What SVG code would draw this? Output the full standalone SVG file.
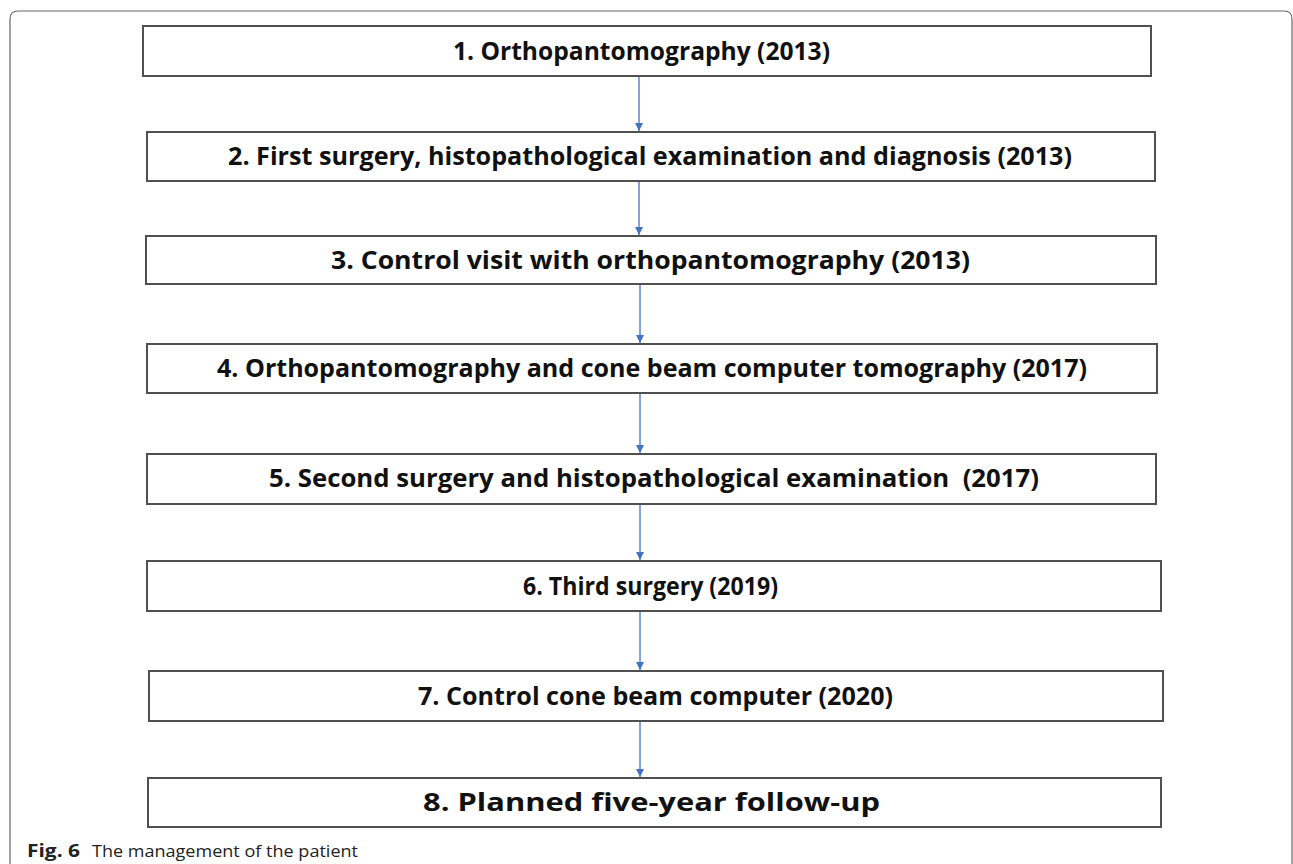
<svg xmlns="http://www.w3.org/2000/svg" width="1293" height="864" viewBox="0 0 1293 864">
<style>
.box{fill:#fff;stroke:#505050;stroke-width:2}
.lbl{font-family:"Open Sans","Noto Sans",sans-serif;font-weight:bold;font-size:24.5px;fill:#111}
.conn{stroke:#4472C4;stroke-width:1.3;fill:none;marker-end:url(#ah)}
.cap{font-family:"Open Sans","Noto Sans",sans-serif;font-size:17px;fill:#222}
</style>
<defs>
<marker id="ah" viewBox="0 0 10 10" refX="10" refY="5" markerUnits="userSpaceOnUse" markerWidth="8" markerHeight="8" orient="auto">
<path d="M0,0 L10,5 L0,10 z" fill="#4472C4"/>
</marker>
</defs>
<rect width="1293" height="864" fill="#fff"/>
<path d="M10,870 L10,19 Q10,11 18,11 L1284,11 Q1292,11 1292,19 L1292,870" fill="none" stroke="#666" stroke-width="1.2"/>
<g id="connectors">
<line class="conn" x1="639" y1="77" x2="639" y2="131"/>
<line class="conn" x1="639" y1="182" x2="639" y2="235"/>
<line class="conn" x1="640" y1="285" x2="640" y2="343"/>
<line class="conn" x1="640" y1="394" x2="640" y2="453"/>
<line class="conn" x1="640" y1="505" x2="640" y2="560"/>
<line class="conn" x1="640" y1="612" x2="640" y2="670"/>
<line class="conn" x1="640" y1="722" x2="640" y2="777"/>
</g>
<g id="n1"><rect class="box" x="143" y="26" width="1008" height="50"/><text class="lbl" x="453" y="60" textLength="377" lengthAdjust="spacingAndGlyphs">1. Orthopantomography (2013)</text></g>
<g id="n2"><rect class="box" x="147" y="132" width="1008" height="49"/><text class="lbl" x="228" y="165" textLength="844" lengthAdjust="spacingAndGlyphs">2. First surgery, histopathological examination and diagnosis (2013)</text></g>
<g id="n3"><rect class="box" x="146" y="236" width="1010" height="48"/><text class="lbl" x="331" y="269" textLength="639" lengthAdjust="spacingAndGlyphs">3. Control visit with orthopantomography (2013)</text></g>
<g id="n4"><rect class="box" x="147" y="344" width="1010" height="49"/><text class="lbl" x="217" y="377" textLength="870" lengthAdjust="spacingAndGlyphs">4. Orthopantomography and cone beam computer tomography (2017)</text></g>
<g id="n5"><rect class="box" x="147" y="454" width="1009" height="50"/><text class="lbl" x="269" y="487" textLength="770" lengthAdjust="spacingAndGlyphs" xml:space="preserve">5. Second surgery and histopathological examination  (2017)</text></g>
<g id="n6"><rect class="box" x="147" y="561" width="1014" height="50"/><text class="lbl" x="523" y="595" textLength="255" lengthAdjust="spacingAndGlyphs">6. Third surgery (2019)</text></g>
<g id="n7"><rect class="box" x="149" y="671" width="1014" height="50"/><text class="lbl" x="418" y="705" textLength="475" lengthAdjust="spacingAndGlyphs">7. Control cone beam computer (2020)</text></g>
<g id="n8"><rect class="box" x="148" y="778" width="1013" height="49"/><text class="lbl" x="423" y="811" textLength="457" lengthAdjust="spacingAndGlyphs">8. Planned five-year follow-up</text></g>
<text class="cap" y="857"><tspan x="27" font-weight="bold" textLength="53" lengthAdjust="spacingAndGlyphs">Fig. 6</tspan><tspan x="92" textLength="266" lengthAdjust="spacingAndGlyphs">The management of the patient</tspan></text>
</svg>
